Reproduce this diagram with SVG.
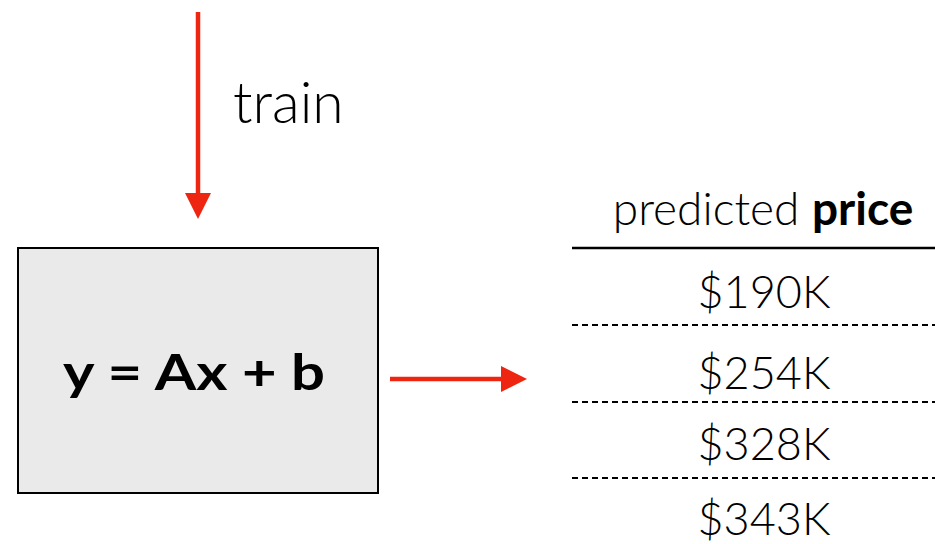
<svg xmlns="http://www.w3.org/2000/svg" width="935" height="544" viewBox="0 0 935 544">
<style>
.lt{font-family:Lato,"Open Sans","Liberation Sans",sans-serif;font-weight:300;fill:#000}
.bd{font-family:Lato,"Open Sans","Liberation Sans",sans-serif;font-weight:700;fill:#000}
.num{font-size:45px}
.red{stroke:#EE2511;stroke-width:4.5;fill:none}
.dash{stroke:#000;stroke-width:2;stroke-dasharray:6 4}
</style>
<defs>
<marker id="ah" markerUnits="userSpaceOnUse" markerWidth="26" markerHeight="26" refX="0" refY="13" orient="auto" viewBox="0 0 26 26">
<path d="M0,0 L26,13 L0,26 Z" fill="#EE2511"/>
</marker>
</defs>
<rect width="935" height="544" fill="#fff"/>
<g id="connectors">
<line class="red" x1="198" y1="12" x2="198" y2="193" marker-end="url(#ah)"/>
<line class="red" x1="390" y1="379" x2="501" y2="379" marker-end="url(#ah)"/>
</g>
<g id="train-label">
<text class="lt" x="233" y="123" font-size="57">train</text>
</g>
<g id="model">
<rect x="18" y="248" width="360" height="245" fill="#EAEAEA" stroke="#000" stroke-width="2"/>
<text class="bd" x="63" y="390" font-size="50" textLength="262" lengthAdjust="spacingAndGlyphs">y = Ax + b</text>
</g>
<g id="table">
<text class="lt" x="763" y="225" font-size="46" text-anchor="middle">predicted <tspan class="bd">price</tspan></text>
<line x1="572" y1="248" x2="935" y2="248" stroke="#000" stroke-width="2.5"/>
<text class="lt num" x="764" y="308" text-anchor="middle">$190K</text>
<line class="dash" x1="572" y1="325" x2="935" y2="325"/>
<text class="lt num" x="764" y="389" text-anchor="middle">$254K</text>
<line class="dash" x1="572" y1="402" x2="935" y2="402"/>
<text class="lt num" x="764" y="460" text-anchor="middle">$328K</text>
<line class="dash" x1="572" y1="478" x2="935" y2="478"/>
<text class="lt num" x="764" y="535" text-anchor="middle">$343K</text>
</g>
</svg>
